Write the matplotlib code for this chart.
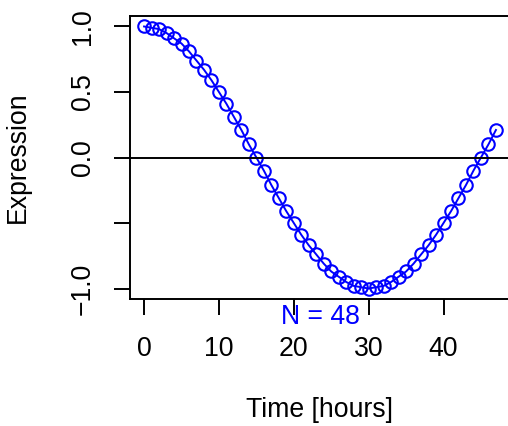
import matplotlib
matplotlib.use("Agg")
import matplotlib.pyplot as plt

plt.rcParams['font.family'] = ['Liberation Sans', 'DejaVu Sans']

# time points (hours) and expression values
hours = list(range(48))
expression = [1.00, 0.99, 0.98, 0.95, 0.91, 0.87, 0.81, 0.74, 0.67, 0.59,
              0.50, 0.41, 0.31, 0.21, 0.10, 0.00, -0.10, -0.21, -0.31, -0.41,
              -0.50, -0.59, -0.67, -0.74, -0.81, -0.87, -0.91, -0.95, -0.98, -0.99,
              -1.00, -0.99, -0.98, -0.95, -0.91, -0.87, -0.81, -0.74, -0.67, -0.59,
              -0.50, -0.41, -0.31, -0.21, -0.10, 0.00, 0.10, 0.21]

x_ticks = [0, 10, 20, 30, 40]
y_ticks = [-1.0, -0.5, 0.0, 0.5, 1.0]
y_tick_labels = ['\u22121.0', '', '0.0', '0.5', '1.0']

fs = 19.2

fig = plt.figure(figsize=(5.08, 4.26), dpi=100)
ax = fig.add_axes([130 / 508, 127 / 426, 380 / 508, 283 / 426])

ax.plot(hours, expression, color='blue', marker='o', markersize=9,
        markerfacecolor='none', markeredgewidth=1.5, linewidth=1.4, clip_on=False)
ax.axhline(0, color='black', linewidth=1.4)

ax.set_xlim(-1.88, 48.88)
ax.set_ylim(-1.08, 1.08)

ax.set_xticks(x_ticks)
ax.set_xticklabels([str(t) for t in x_ticks])
ax.set_yticks(y_ticks)
ax.set_yticklabels(y_tick_labels, rotation=90, va='center')

ax.tick_params(axis='both', direction='out', length=11.5, width=1.4, labelsize=fs)
ax.tick_params(axis='x', pad=15)
ax.tick_params(axis='y', pad=13)
for sp in ax.spines.values():
    sp.set_linewidth(1.4)

ax.set_xlabel('Time [hours]', fontsize=fs, labelpad=25)
ax.set_ylabel('Expression', fontsize=fs, labelpad=28)

n = len(hours)
ax.annotate('N = %d' % n, xy=(sum(hours) / n, 0), xycoords=('data', 'axes fraction'),
            xytext=(0, -18), textcoords='offset pixels', ha='center', va='center',
            color='blue', fontsize=fs, annotation_clip=False)

fig.savefig('out.png', dpi=100)
